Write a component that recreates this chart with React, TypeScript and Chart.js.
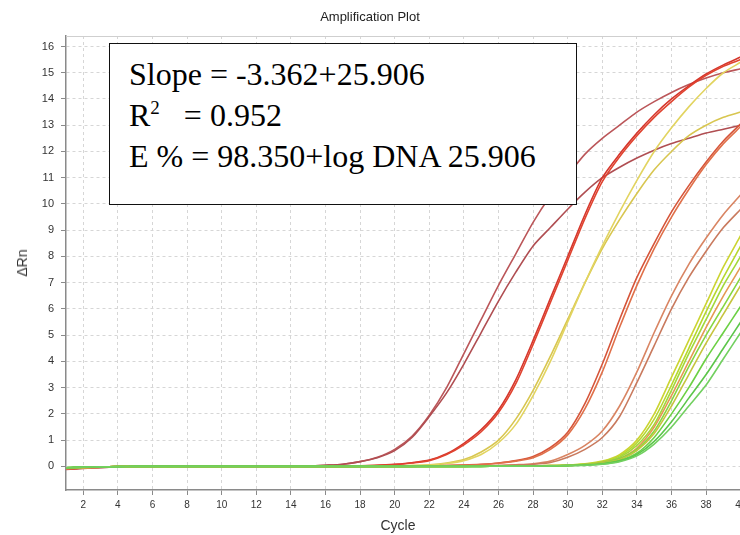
import React, { useEffect, useRef } from 'react';
import { Chart, registerables } from 'chart.js';

Chart.register(...registerables);

const cycles = [1, 2, 3, 4, 5, 6, 7, 8, 9, 10, 11, 12, 13, 14, 15, 16, 17, 18, 19, 20, 21, 22, 23, 24, 25, 26, 27, 28, 29, 30, 31, 32, 33, 34, 35, 36, 37, 38, 39, 40];
const xTickValues = [2, 4, 6, 8, 10, 12, 14, 16, 18, 20, 22, 24, 26, 28, 30, 32, 34, 36, 38, 40];
const yTickValues = [0, 1, 2, 3, 4, 5, 6, 7, 8, 9, 10, 11, 12, 13, 14, 15, 16];

const wellA1 = [-0.12, -0.08, -0.05, -0.02, 0, 0, 0, 0, 0, 0, 0, 0, 0, 0, 0.01, 0.04, 0.08, 0.18, 0.35, 0.65, 1.15, 1.95, 3.0, 4.3, 5.6, 6.9, 8.1, 9.3, 10.3, 11.1, 11.9, 12.5, 13.0, 13.5, 13.9, 14.25, 14.55, 14.8, 15.0, 15.15];
const wellA2 = [-0.1, -0.07, -0.04, -0.02, 0, 0, 0, 0, 0, 0, 0, 0, 0, 0, 0.01, 0.04, 0.08, 0.18, 0.33, 0.6, 1.1, 1.9, 2.8, 3.9, 5.1, 6.3, 7.4, 8.4, 9.1, 9.8, 10.45, 11.0, 11.4, 11.75, 12.05, 12.3, 12.5, 12.7, 12.85, 13.0];
const wellB1 = [-0.1, -0.06, -0.03, -0.01, 0, 0, 0, 0, 0, 0, 0, 0, 0, 0, 0, 0, 0.01, 0.02, 0.04, 0.08, 0.14, 0.24, 0.48, 0.88, 1.4, 2.15, 3.3, 4.8, 6.4, 8.0, 9.6, 11.0, 11.9, 12.7, 13.4, 14.0, 14.5, 14.95, 15.3, 15.6];
const wellB2 = [-0.09, -0.06, -0.03, -0.01, 0, 0, 0, 0, 0, 0, 0, 0, 0, 0, 0, 0, 0.01, 0.02, 0.04, 0.07, 0.13, 0.22, 0.45, 0.82, 1.32, 2.05, 3.15, 4.65, 6.25, 7.85, 9.45, 10.85, 11.8, 12.6, 13.3, 13.9, 14.45, 14.9, 15.25, 15.5];
const wellC1 = [-0.08, -0.05, -0.03, -0.01, 0, 0, 0, 0, 0, 0, 0, 0, 0, 0, 0, 0, 0, 0, 0.01, 0.02, 0.03, 0.06, 0.13, 0.26, 0.55, 1.0, 1.8, 2.9, 4.2, 5.6, 7.0, 8.3, 9.4, 10.4, 11.3, 12.0, 12.6, 13.0, 13.3, 13.5];
const wellC2 = [-0.08, -0.05, -0.03, -0.01, 0, 0, 0, 0, 0, 0, 0, 0, 0, 0, 0, 0, 0, 0, 0.01, 0.02, 0.03, 0.05, 0.11, 0.22, 0.45, 0.9, 1.6, 2.7, 4.0, 5.5, 7.0, 8.4, 9.7, 10.9, 12.0, 12.9, 13.7, 14.4, 15.0, 15.4];
const wellD1 = [-0.1, -0.06, -0.03, -0.01, 0, 0, 0, 0, 0, 0, 0, 0, 0, 0, 0, 0, 0, 0, 0, 0.01, 0.01, 0.02, 0.03, 0.05, 0.08, 0.13, 0.22, 0.38, 0.72, 1.3, 2.4, 3.9, 5.6, 7.2, 8.5, 9.7, 10.7, 11.6, 12.4, 13.05];
const wellD2 = [-0.1, -0.06, -0.03, -0.01, 0, 0, 0, 0, 0, 0, 0, 0, 0, 0, 0, 0, 0, 0, 0, 0.01, 0.01, 0.02, 0.03, 0.05, 0.07, 0.12, 0.2, 0.33, 0.65, 1.2, 2.2, 3.6, 5.3, 6.9, 8.3, 9.5, 10.55, 11.5, 12.3, 12.95];
const wellE1 = [-0.08, -0.05, -0.03, -0.01, 0, 0, 0, 0, 0, 0, 0, 0, 0, 0, 0, 0, 0, 0, 0, 0, 0, 0.01, 0.01, 0.02, 0.02, 0.03, 0.06, 0.1, 0.2, 0.45, 0.8, 1.35, 2.3, 3.6, 5.1, 6.5, 7.7, 8.7, 9.6, 10.35];
const wellE2 = [-0.08, -0.05, -0.03, -0.01, 0, 0, 0, 0, 0, 0, 0, 0, 0, 0, 0, 0, 0, 0, 0, 0, 0, 0.01, 0.01, 0.02, 0.02, 0.03, 0.05, 0.08, 0.15, 0.35, 0.65, 1.1, 1.9, 3.2, 4.6, 6.0, 7.2, 8.2, 9.1, 9.8];
const wellF1 = [-0.06, -0.04, -0.02, -0.01, 0, 0, -0.03, 0, 0, 0, 0, 0, 0, 0, 0, 0, 0, 0, 0, 0, 0, 0, 0, 0, 0.01, 0.01, 0.01, 0.02, 0.03, 0.05, 0.1, 0.2, 0.45, 1.0, 2.0, 3.4, 4.8, 6.2, 7.6, 8.8];
const wellF2 = [-0.06, -0.04, -0.02, -0.01, 0, 0, 0, 0, 0, 0, 0, 0, 0, 0, 0, 0, 0, 0, 0, 0, 0, 0, 0, 0, 0.01, 0.01, 0.01, 0.02, 0.03, 0.05, 0.09, 0.18, 0.4, 0.9, 1.8, 3.1, 4.5, 5.9, 7.2, 8.4];
const wellF3 = [-0.06, -0.04, -0.02, -0.01, 0, 0, 0, 0, 0, 0, 0, 0, 0, 0, 0, 0, 0, 0, 0, 0, 0, 0, 0, 0, 0.01, 0.01, 0.01, 0.02, 0.03, 0.04, 0.08, 0.16, 0.35, 0.8, 1.6, 2.9, 4.3, 5.6, 6.9, 8.0];
const wellF4 = [-0.07, -0.04, -0.02, -0.01, 0, 0, 0, 0, 0, 0, 0, 0, 0, 0, 0, 0, 0, 0, 0, 0, 0, 0, 0, 0, 0.01, 0.01, 0.01, 0.02, 0.03, 0.04, 0.07, 0.15, 0.3, 0.7, 1.5, 2.7, 4.0, 5.3, 6.5, 7.6];
const wellF5 = [-0.05, -0.03, -0.02, -0.01, 0, 0, 0, 0, 0, 0, 0, 0, 0, 0, 0, 0, 0, 0, 0, 0, 0, 0, 0, 0, 0, 0.01, 0.01, 0.02, 0.02, 0.04, 0.07, 0.14, 0.3, 0.65, 1.35, 2.5, 3.8, 5.0, 6.1, 7.2];
const wellF6 = [-0.05, -0.03, -0.02, -0.01, 0, 0, 0, 0, 0, 0, 0, 0, 0, 0, 0, 0, 0, 0, 0, 0, 0, 0, 0, 0, 0, 0.01, 0.01, 0.02, 0.02, 0.03, 0.06, 0.12, 0.25, 0.6, 1.25, 2.3, 3.5, 4.7, 5.8, 6.9];
const wellF7 = [-0.05, -0.03, -0.02, -0.01, 0, 0, 0, 0, 0, 0, 0, 0, 0, 0, 0, 0, 0, 0, 0, 0, 0, 0, 0, 0, 0, 0.01, 0.01, 0.01, 0.02, 0.03, 0.05, 0.1, 0.22, 0.5, 1.1, 2.0, 3.0, 4.1, 5.1, 6.1];
const wellF8 = [-0.05, -0.03, -0.02, -0.01, 0, 0, 0, 0, 0, 0, 0, 0, 0, 0, 0, 0, 0, 0, 0, 0, 0, 0, 0, 0, 0, 0.01, 0.01, 0.01, 0.02, 0.03, 0.05, 0.09, 0.2, 0.45, 0.95, 1.7, 2.6, 3.5, 4.5, 5.5];
const wellF9 = [-0.05, -0.03, -0.02, -0.01, 0, 0, 0, 0, 0, 0, 0, 0, 0, 0, 0, 0, 0, 0, 0, 0, 0, 0, 0, 0, 0, 0.01, 0.01, 0.01, 0.02, 0.03, 0.04, 0.08, 0.18, 0.4, 0.85, 1.5, 2.3, 3.1, 4.1, 5.1];

const wellSeries = [
  { name: 'F9', values: wellF9, color: '#72d060' },
  { name: 'F8', values: wellF8, color: '#5cc64a' },
  { name: 'F7', values: wellF7, color: '#6cd044' },
  { name: 'F6', values: wellF6, color: '#c6c43e' },
  { name: 'F5', values: wellF5, color: '#86d640' },
  { name: 'F4', values: wellF4, color: '#e49a52' },
  { name: 'F3', values: wellF3, color: '#a2d83a' },
  { name: 'F2', values: wellF2, color: '#b6d82e' },
  { name: 'F1', values: wellF1, color: '#cbd432' },
  { name: 'E2', values: wellE2, color: '#c97a5e' },
  { name: 'E1', values: wellE1, color: '#d98563' },
  { name: 'D2', values: wellD2, color: '#e0704a' },
  { name: 'D1', values: wellD1, color: '#d6553a' },
  { name: 'C2', values: wellC2, color: '#e2d460' },
  { name: 'C1', values: wellC1, color: '#d8c650' },
  { name: 'B2', values: wellB2, color: '#e0432f' },
  { name: 'B1', values: wellB1, color: '#d5362c' },
  { name: 'A2', values: wellA2, color: '#b04e52' },
  { name: 'A1', values: wellA1, color: '#bb5659' },
];

const frameBorder = {
  id: 'frameBorder',
  beforeDatasetsDraw(chart: any) {
    const { ctx, chartArea } = chart;
    ctx.save();
    ctx.strokeStyle = '#cfcfcf';
    ctx.lineWidth = 1;
    ctx.beginPath();
    ctx.moveTo(chartArea.left, chartArea.top + 0.5);
    ctx.lineTo(chartArea.right, chartArea.top + 0.5);
    ctx.moveTo(chartArea.right - 0.5, chartArea.top);
    ctx.lineTo(chartArea.right - 0.5, chartArea.bottom);
    ctx.stroke();
    ctx.restore();
  },
};

export default function App() {
  const canvasRef = useRef<HTMLCanvasElement | null>(null);

  useEffect(() => {
    if (!canvasRef.current) return;
    const chart = new Chart(canvasRef.current, {
      type: 'line',
      data: {
        datasets: wellSeries.map((s) => ({
          label: s.name,
          data: cycles.map((c, i) => ({ x: c, y: s.values[i] })),
          borderColor: s.color,
          backgroundColor: s.color,
          borderWidth: 1.6,
          pointRadius: 0,
          tension: 0.25,
          fill: false,
        })),
      },
      options: {
        animation: false,
        responsive: false,
        maintainAspectRatio: false,
        layout: { padding: { top: 36, right: 22, bottom: 0, left: 0 } },
        plugins: {
          legend: { display: false },
          title: { display: false },
          tooltip: { enabled: false },
        },
        scales: {
          x: {
            type: 'linear',
            min: 1,
            max: 41,
            afterBuildTicks: (scale: any) => {
              scale.ticks = xTickValues.map((v) => ({ value: v }));
            },
            afterFit: (scale: any) => {
              scale.height = 45;
            },
            ticks: {
              autoSkip: false,
              maxRotation: 0,
              padding: 4,
              color: '#333',
              font: { family: 'Arial, "Liberation Sans", sans-serif', size: 10 },
            },
            grid: {
              color: '#d6d6d6',
              lineWidth: 1,
              drawTicks: true,
              tickLength: 5,
              tickColor: '#8a8a8a',
              tickWidth: 1,
            },
            border: { color: '#8a8a8a', width: 1.5, dash: [3, 3] },
          },
          y: {
            type: 'linear',
            min: -0.9,
            max: 16.4,
            afterBuildTicks: (scale: any) => {
              scale.ticks = yTickValues.map((v) => ({ value: v }));
            },
            afterFit: (scale: any) => {
              scale.width = 66;
            },
            ticks: {
              padding: 7,
              color: '#333',
              font: { family: 'Arial, "Liberation Sans", sans-serif', size: 11 },
            },
            grid: {
              color: '#d6d6d6',
              lineWidth: 1,
              drawTicks: true,
              tickLength: 5,
              tickColor: '#8a8a8a',
              tickWidth: 1,
            },
            border: { color: '#8a8a8a', width: 1.5, dash: [3, 3] },
          },
        },
      },
      plugins: [frameBorder],
    } as any);
    return () => chart.destroy();
  }, []);

  const serif = '"Liberation Serif", "Times New Roman", serif';
  const sans = 'Arial, "Liberation Sans", sans-serif';
  const lineStyle: React.CSSProperties = {
    position: 'absolute',
    left: 129,
    fontFamily: serif,
    fontSize: 32,
    lineHeight: '41px',
    color: '#000',
    whiteSpace: 'pre',
  };

  return (
    <div style={{ position: 'fixed', left: 0, top: 0, width: 740, height: 535, overflow: 'hidden', background: '#fff' }}>
      <canvas ref={canvasRef} width={780} height={535} style={{ position: 'absolute', left: 0, top: 0, width: 780, height: 535 }} />
      <div style={{ position: 'absolute', left: 0, top: 9, width: 740, textAlign: 'center', fontFamily: sans, fontSize: 13, lineHeight: '16px', color: '#222' }}>
        Amplification Plot
      </div>
      <div style={{ position: 'absolute', left: 22, top: 263, transform: 'translate(-50%, -50%) rotate(-90deg)', fontFamily: sans, fontSize: 14, color: '#333', whiteSpace: 'nowrap' }}>
        ΔRn
      </div>
      <div style={{ position: 'absolute', left: 398, top: 525, transform: 'translate(-50%, -50%)', fontFamily: sans, fontSize: 14, color: '#333', whiteSpace: 'nowrap' }}>
        Cycle
      </div>
      <div style={{ position: 'absolute', left: 109, top: 43, width: 468, height: 162, boxSizing: 'border-box', border: '1.5px solid #111', background: '#fff' }} />
      <div style={{ ...lineStyle, top: 54 }}>Slope = -3.362+25.906</div>
      <div style={{ ...lineStyle, top: 95 }}>
        R<sup style={{ fontSize: 19, lineHeight: 0 }}>2</sup>{'   = 0.952'}
      </div>
      <div style={{ ...lineStyle, top: 136 }}>E % = 98.350+log DNA 25.906</div>
    </div>
  );
}
